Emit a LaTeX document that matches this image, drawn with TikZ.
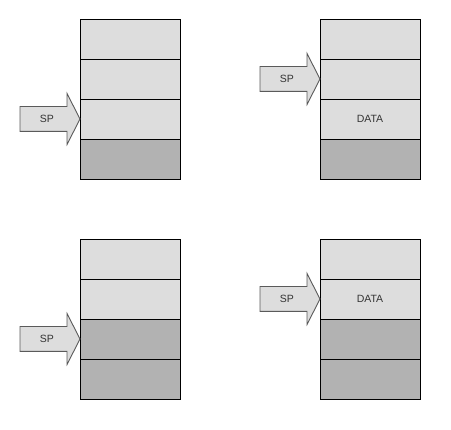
\documentclass[tikz,border=0pt]{standalone}
\usepackage{fontspec}
\setmainfont{Liberation Sans}
\usepackage{xcolor}
\usepackage{tikz}
\usetikzlibrary{positioning,shapes.arrows}
\definecolor{cellfree}{HTML}{DDDDDD}
\definecolor{cellused}{HTML}{B2B2B2}
\definecolor{ptrline}{HTML}{5A5A5A}
\definecolor{labelgray}{HTML}{333333}

\begin{document}
\begin{tikzpicture}[x=1pt,y=-1pt,
  cell/.style={draw=black,line width=0.9pt,fill=cellfree,minimum width=100pt,minimum height=40pt,inner sep=0pt,outer sep=0pt,font=\fontsize{10.5}{12}\selectfont,text=labelgray},
  used/.style={cell,fill=cellused},
  ptr/.style={single arrow,draw=ptrline,line width=0.9pt,fill=cellfree,minimum height=60pt,minimum width=50pt,single arrow head extend=13pt,single arrow tip angle=126,text height=7.5pt,text depth=0pt,inner ysep=8.25pt,inner xsep=2pt,outer sep=0pt,font=\fontsize{10.5}{12}\selectfont,text=labelgray}
]
  \useasboundingbox (0,0) rectangle (451,430);
  % stack 1: empty push
  \node[cell] (a1) at (130,39) {};
  \node[cell,below=0pt of a1] (a2) {};
  \node[cell,below=0pt of a2] (a3) {};
  \node[used,below=0pt of a3] (a4) {};
  \node[ptr,anchor=tip] (spa) at (a3.west) {SP};
  % stack 2: data pushed
  \node[cell] (b1) at (370,39) {};
  \node[cell,below=0pt of b1] (b2) {};
  \node[cell,below=0pt of b2] (b3) {DATA};
  \node[used,below=0pt of b3] (b4) {};
  \node[ptr,anchor=tip] (spb) at (b2.west) {SP};
  % stack 3: full descending
  \node[cell] (c1) at (130,259) {};
  \node[cell,below=0pt of c1] (c2) {};
  \node[used,below=0pt of c2] (c3) {};
  \node[used,below=0pt of c3] (c4) {};
  \node[ptr,anchor=tip] (spc) at (c3.west) {SP};
  % stack 4: data pushed
  \node[cell] (d1) at (370,259) {};
  \node[cell,below=0pt of d1] (d2) {DATA};
  \node[used,below=0pt of d2] (d3) {};
  \node[used,below=0pt of d3] (d4) {};
  \node[ptr,anchor=tip] (spd) at (d2.west) {SP};
\end{tikzpicture}
\end{document}
